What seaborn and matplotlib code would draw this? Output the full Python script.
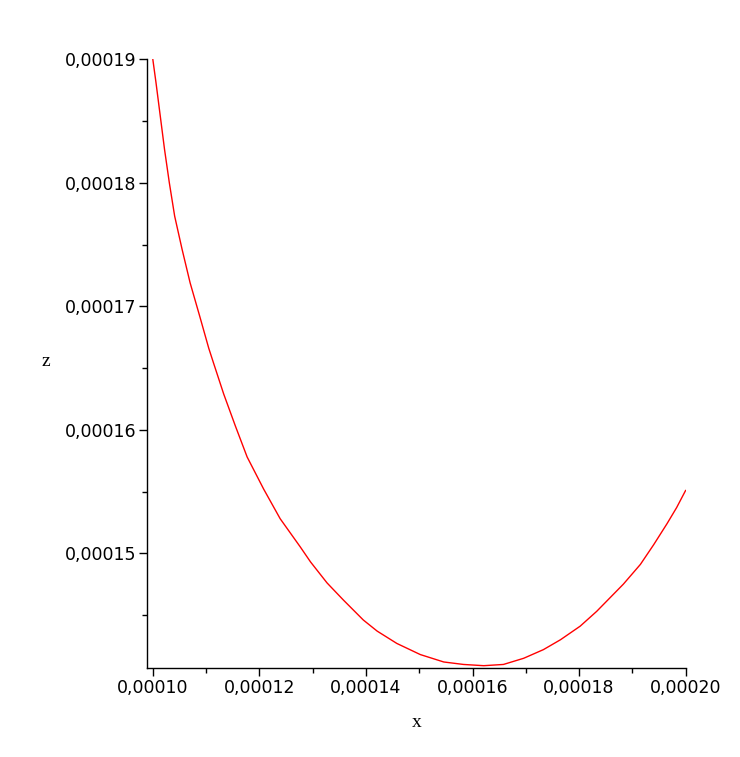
import numpy as np
import matplotlib
matplotlib.use("Agg")
import matplotlib.pyplot as plt
import pandas as pd
import seaborn as sns
from matplotlib.ticker import FuncFormatter, MultipleLocator

# values
x_vals = [0.0001000, 0.0001006, 0.0001014, 0.0001022, 0.0001031, 0.0001041,
          0.0001055, 0.0001070, 0.0001088, 0.0001105, 0.0001114, 0.0001133,
          0.0001155, 0.0001177, 0.0001208, 0.0001239, 0.0001277, 0.0001296,
          0.0001327, 0.0001358, 0.0001395, 0.0001421, 0.0001458, 0.0001502,
          0.0001546, 0.0001583, 0.0001621, 0.0001658, 0.0001696, 0.0001733,
          0.0001765, 0.0001802, 0.0001833, 0.0001883, 0.0001915, 0.0001940,
          0.0001965, 0.0001983, 0.0002000]
z_vals = [0.0001900, 0.0001881, 0.0001854, 0.0001827, 0.0001800, 0.0001773,
          0.0001746, 0.0001719, 0.0001692, 0.0001666, 0.0001654, 0.0001629,
          0.0001603, 0.0001578, 0.0001552, 0.0001528, 0.0001505, 0.0001493,
          0.0001476, 0.0001462, 0.0001446, 0.0001437, 0.0001427, 0.0001418,
          0.0001412, 0.0001410, 0.0001409, 0.0001410, 0.0001415, 0.0001422,
          0.0001430, 0.0001441, 0.0001453, 0.0001475, 0.0001491, 0.0001507,
          0.0001524, 0.0001537, 0.0001551]

frame = pd.DataFrame({"x": x_vals, "z": z_vals})

sns.set_style("ticks")
plt.rcParams['font.family'] = ['DejaVu Sans']
plt.rcParams['text.color'] = 'black'
plt.rcParams['xtick.color'] = 'black'
plt.rcParams['ytick.color'] = 'black'

fig = plt.figure(figsize=(7.40, 7.57), dpi=100)
ax = fig.add_axes([0.1993, 0.1172, 0.7273, 0.8045])

sns.lineplot(data=frame, x="x", y="z", ax=ax, color="red", linewidth=1.0,
             sort=False, estimator=None)

ax.set_xlim(0.0000990, 0.0002)
ax.set_ylim(0.00014069, 0.00019)

comma_fmt = FuncFormatter(lambda v, pos: ("%.5f" % v).replace(".", ","))
ax.xaxis.set_major_locator(MultipleLocator(0.00002))
ax.xaxis.set_minor_locator(MultipleLocator(0.00001))
ax.yaxis.set_major_locator(MultipleLocator(0.00001))
ax.yaxis.set_minor_locator(MultipleLocator(0.000005))
ax.xaxis.set_major_formatter(comma_fmt)
ax.yaxis.set_major_formatter(comma_fmt)

ax.tick_params(which="major", length=5.8, width=1.0, color="black",
               labelcolor="black", labelsize=12.5, pad=2)
ax.tick_params(which="minor", length=3.6, width=1.0, color="black")

for side in ["top", "right"]:
    ax.spines[side].set_visible(False)
for side in ["left", "bottom"]:
    ax.spines[side].set_linewidth(1.0)
    ax.spines[side].set_color("black")

ax.set_xlabel("x", family="Liberation Serif", fontsize=14, color="black")
ax.set_ylabel("z", family="Liberation Serif", fontsize=14, rotation=0,
              color="black")
ax.xaxis.set_label_coords(0.5, -0.075)
ax.yaxis.set_label_coords(-0.189, 0.49)

fig.savefig("out.png", dpi=100)
